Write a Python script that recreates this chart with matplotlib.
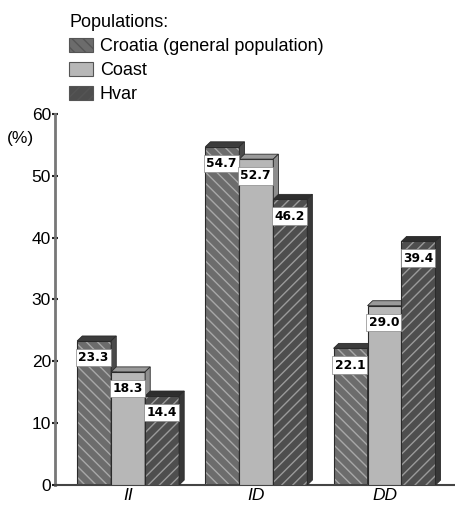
import matplotlib
matplotlib.use("Agg")
import matplotlib.pyplot as plt
from matplotlib.patches import Patch, Polygon
import numpy as np

plt.rcParams['font.family'] = ['Liberation Sans', 'DejaVu Sans']

# genotype groups and the percentage per population
groups = ['II', 'ID', 'DD']
populations = ['Croatia (general population)', 'Coast', 'Hvar']
croatia = [23.3, 54.7, 22.1]
coast = [18.3, 52.7, 29.0]
hvar = [14.4, 46.2, 39.4]
yticks = [0, 10, 20, 30, 40, 50, 60]

series = [croatia, coast, hvar]
faces = ['#6c6c6c', '#b7b7b7', '#4e4e4e']
hatches = ['\\\\\\', None, '///']
hatch_cols = ['#a8a8a8', '#b7b7b7', '#9a9a9a']
tops = ['#3c3c3c', '#9a9a9a', '#2e2e2e']
sides = ['#4a4a4a', '#8e8e8e', '#383838']

fig = plt.figure(figsize=(4.55, 5.05), dpi=100)
ax = fig.add_axes([0.121, 0.0396, 0.879, 0.7347])

w = 0.265
dx, dy = 0.04, 0.8
x = np.arange(len(groups))

for i, vals in enumerate(series):
    xs = x + (i - 1) * w
    z = 2 + i
    ax.bar(xs, vals, w, color=faces[i], hatch=hatches[i], edgecolor=hatch_cols[i],
           linewidth=0, zorder=z)
    ax.bar(xs, vals, w, fill=False, edgecolor='#2a2a2a', linewidth=0.8, zorder=z)
    for xc, v in zip(xs, vals):
        x0, x1 = xc - w / 2, xc + w / 2
        # top face and right side for the 3d look
        ax.add_patch(Polygon([(x0, v), (x0 + dx, v + dy), (x1 + dx, v + dy), (x1, v)],
                             closed=True, fc=tops[i], ec='#2a2a2a', lw=0.6, zorder=z))
        ax.add_patch(Polygon([(x1, 0), (x1 + dx, dy), (x1 + dx, v + dy), (x1, v)],
                             closed=True, fc=sides[i], ec='#2a2a2a', lw=0.6, zorder=z))
        ax.text(xc - 0.005, v - 2.7, '%.1f' % v, ha='center', va='center', fontsize=8.8,
                fontweight='bold', family='DejaVu Sans', color='black', zorder=10,
                bbox=dict(boxstyle='square,pad=0.18', fc='white', ec='#888888', lw=0.5))

ax.set_xlim(-0.57, 2.55)
ax.set_ylim(0, 60)
ax.set_yticks(yticks)
ax.set_xticks(x)
ax.set_xticklabels(groups, style='italic', fontsize=12.5)
ax.tick_params(axis='y', labelsize=12.5, length=4, width=1.5, color='#222222',
               direction='inout', pad=1)
ax.tick_params(axis='x', length=0, pad=2)
for s in ['top', 'right']:
    ax.spines[s].set_visible(False)
ax.spines['left'].set_color('#777777')
ax.spines['left'].set_linewidth(2)
ax.spines['bottom'].set_color('#444444')
ax.spines['bottom'].set_linewidth(1.5)
ax.text(-0.053, 0.935, '(%)', transform=ax.transAxes, ha='right', va='center', fontsize=12.5)

handles = [Patch(facecolor=faces[i], hatch=hatches[i], edgecolor=hatch_cols[i], lw=0)
           for i in range(3)]
leg = fig.legend(handles, populations, title='Populations:', loc='upper left',
                 bbox_to_anchor=(0.132, 0.99), frameon=False, fontsize=13,
                 title_fontsize=13, alignment='left', handlelength=1.3,
                 handleheight=0.8, labelspacing=0.38, handletextpad=0.4,
                 borderaxespad=0.2, borderpad=0.3)
for p in leg.get_patches():
    p.set_edgecolor('#555555')
    p.set_linewidth(0.8)

fig.savefig('out.png', dpi=100)
